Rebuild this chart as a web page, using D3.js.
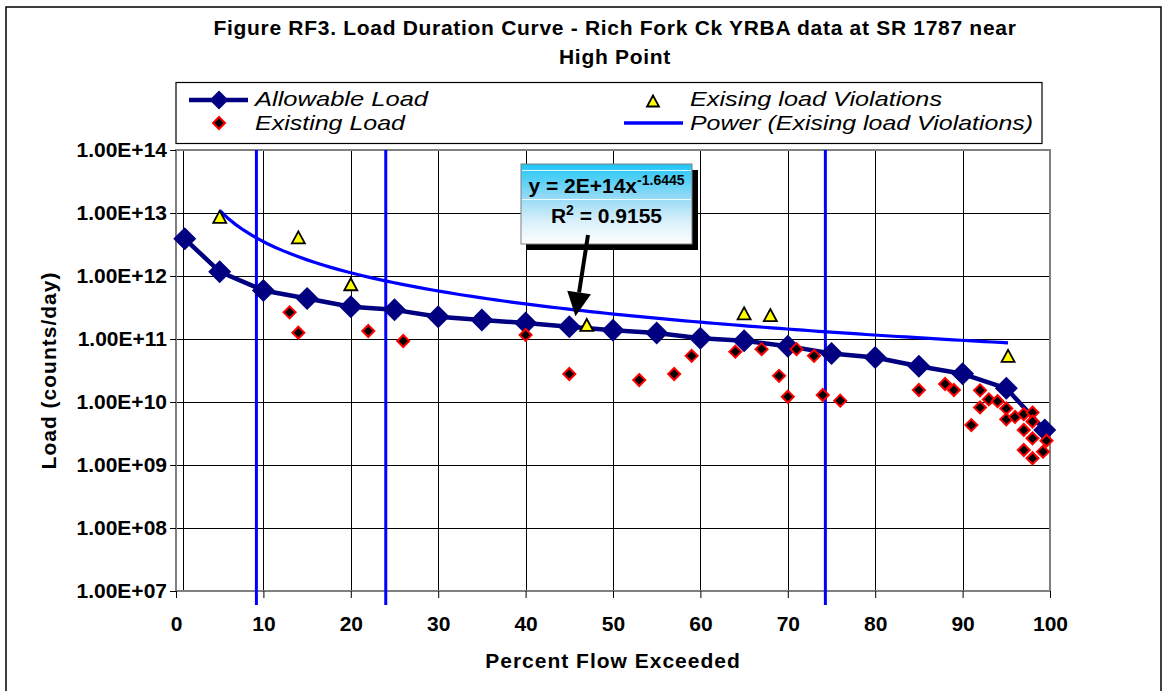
<!DOCTYPE html>
<html>
<head>
<meta charset="utf-8">
<script src="https://cdn.jsdelivr.net/npm/d3@7"></script>
<style>
  body { margin: 0; background: #fff; }
  svg { display: block; }
  text { font-family: Arial, "Liberation Sans", sans-serif; fill: #000; }
</style>
</head>
<body>
<svg id="chart" width="1167" height="691"></svg>
<script>
// ---- Data -------------------------------------------------------------
const xTicks = [0, 10, 20, 30, 40, 50, 60, 70, 80, 90, 100];
const yTicks = [1e7, 1e8, 1e9, 1e10, 1e11, 1e12, 1e13, 1e14];
const yTickLabels = ["1.00E+07", "1.00E+08", "1.00E+09", "1.00E+10",
                     "1.00E+11", "1.00E+12", "1.00E+13", "1.00E+14"];

// Allowable load along the flow duration curve
const allowableX = [1, 5, 10, 15, 20, 25, 30, 35, 40, 45, 50, 55, 60, 65, 70, 75, 80, 85, 90, 95, 99.4];
const allowableLoad = [3.9e12, 1.17e12, 5.9e11, 4.4e11, 3.25e11, 2.9e11, 2.25e11, 2.0e11, 1.8e11,
                       1.57e11, 1.38e11, 1.25e11, 1.03e11, 9.4e10, 7.7e10, 5.9e10, 5.1e10, 3.7e10,
                       2.8e10, 1.65e10, 3.6e9];

// Observed (existing) loads
const existingX = [13, 14, 22, 26, 40, 45, 53, 57, 59, 64, 67, 69, 70, 71, 73, 74, 76,
                   85, 88, 89, 91, 92, 92, 93, 94, 95, 95, 96, 97, 98, 98, 97, 98, 99.6, 97, 99.2, 98];
const existingLoad = [2.65e11, 1.26e11, 1.34e11, 9.3e10, 1.16e11, 2.78e10, 2.23e10, 2.78e10, 5.4e10,
                      6.3e10, 6.9e10, 2.6e10, 1.21e10, 6.9e10, 5.4e10, 1.29e10, 1.05e10,
                      1.55e10, 1.93e10, 1.55e10, 4.3e9, 1.53e10, 8.2e9, 1.1e10, 1.03e10, 7.9e9, 5.3e9,
                      5.8e9, 6.4e9, 6.8e9, 4.9e9, 3.6e9, 2.65e9, 2.43e9, 1.73e9, 1.63e9, 1.28e9];

// Existing loads that exceed the allowable load
const violationX = [5, 14, 20, 47, 65, 68, 95.2];
const violationLoad = [8.7e12, 4.1e12, 7.4e11, 1.67e11, 2.56e11, 2.4e11, 5.4e10];

// Flow-zone boundaries (percent flow exceeded)
const zoneBounds = [9.2, 24, 74.3];

// Trendline label text
const trendCoefText = "2E+14";
const trendExpText = "-1.6445";
const trendR2Text = "0.9155";

// Legend entries
const legendLabels = ["Allowable Load", "Existing Load",
                      "Exising load Violations", "Power (Exising load Violations)"];

// ---- Layout -----------------------------------------------------------
const svg = d3.select("#chart");
const plot = { left: 176, right: 1050, top: 150, bottom: 591 };
const FONT = 'Arial, "Liberation Sans", sans-serif';

const x = d3.scaleLinear().domain([0, 100]).range([plot.left, plot.right]);
const y = d3.scaleLog().domain([1e7, 1e14]).range([plot.bottom, plot.top]);

// Least-squares power fit (log-log) of the violation points
function powerFit(xs, ys) {
  const lx = xs.map(Math.log10), ly = ys.map(Math.log10);
  const mx = d3.mean(lx), my = d3.mean(ly);
  let sxy = 0, sxx = 0;
  lx.forEach((v, i) => { sxy += (v - mx) * (ly[i] - my); sxx += (v - mx) * (v - mx); });
  const b = sxy / sxx;
  return { a: Math.pow(10, my - b * mx), b };
}
const fit = powerFit(violationX, violationLoad);
const trend = v => fit.a * Math.pow(v, fit.b);

// Outer chart frame
svg.append("rect")
  .attr("x", 6).attr("y", 7).attr("width", 1155).attr("height", 700)
  .attr("fill", "#fff").attr("stroke", "#000").attr("stroke-width", 1.5);

// Title
const title = svg.append("text")
  .attr("text-anchor", "middle")
  .attr("font-weight", "bold").attr("font-size", 21).attr("letter-spacing", 0.7);
title.append("tspan").attr("x", 615).attr("y", 35)
  .text("Figure RF3. Load Duration Curve - Rich Fork Ck YRBA data at SR 1787 near");
title.append("tspan").attr("x", 615).attr("y", 64).text("High Point");

// Gridlines
const grid = svg.append("g").attr("shape-rendering", "crispEdges");
grid.selectAll("line.h").data(yTicks.slice(1, -1)).join("line")
  .attr("x1", plot.left).attr("x2", plot.right)
  .attr("y1", d => Math.round(y(d)) + 0.5).attr("y2", d => Math.round(y(d)) + 0.5)
  .attr("stroke", "#000").attr("stroke-width", 1);
grid.selectAll("line.v").data(xTicks.slice(1, -1)).join("line")
  .attr("y1", plot.top).attr("y2", plot.bottom)
  .attr("x1", d => Math.round(x(d)) + 0.5).attr("x2", d => Math.round(x(d)) + 0.5)
  .attr("stroke", "#000").attr("stroke-width", 1);

// Value axis line just inside the plot frame
grid.append("line")
  .attr("x1", plot.left + 7.5).attr("x2", plot.left + 7.5)
  .attr("y1", plot.top).attr("y2", plot.bottom)
  .attr("stroke", "#000").attr("stroke-width", 1);

// Plot frame
svg.append("rect")
  .attr("x", plot.left).attr("y", plot.top)
  .attr("width", plot.right - plot.left).attr("height", plot.bottom - plot.top)
  .attr("fill", "none").attr("stroke", "#808080").attr("stroke-width", 2);

// Axes (ticks and labels)
const xAxis = d3.axisBottom(x).tickValues(xTicks).tickSize(7).tickFormat(d3.format("d"));
const gx = svg.append("g").attr("transform", `translate(0,${plot.bottom})`).call(xAxis);
gx.select(".domain").remove();
gx.selectAll(".tick line").attr("stroke", "#000");
gx.selectAll(".tick text")
  .attr("y", 40).attr("dy", null)
  .attr("font-size", 21).attr("font-weight", "bold")
  .attr("font-family", FONT).attr("fill", "#000");

const yAxis = d3.axisLeft(y).tickValues(yTicks).tickSize(6)
  .tickFormat((d, i) => yTickLabels[i]);
const gy = svg.append("g").attr("transform", `translate(${plot.left},0)`).call(yAxis);
gy.select(".domain").remove();
gy.selectAll(".tick line").attr("stroke", "#000");
gy.selectAll(".tick text")
  .attr("x", -9)
  .attr("font-size", 21).attr("font-weight", "bold")
  .attr("font-family", FONT).attr("fill", "#000");

// Axis titles
svg.append("text")
  .attr("x", (plot.left + plot.right) / 2).attr("y", 668)
  .attr("text-anchor", "middle").attr("font-weight", "bold")
  .attr("font-size", 21).attr("letter-spacing", 1)
  .text("Percent Flow Exceeded");
svg.append("text")
  .attr("transform", `translate(56,${(plot.top + plot.bottom) / 2}) rotate(-90)`)
  .attr("text-anchor", "middle").attr("font-weight", "bold")
  .attr("font-size", 21).attr("letter-spacing", 1)
  .text("Load (counts/day)");

// Flow-zone boundary lines
svg.append("g").selectAll("line").data(zoneBounds).join("line")
  .attr("x1", d => x(d)).attr("x2", d => x(d))
  .attr("y1", plot.top).attr("y2", plot.bottom + 14)
  .attr("stroke", "#0000FF").attr("stroke-width", 3);

// Power trendline over the range of the violation data
const trendXs = d3.range(0, 101).map(i =>
  d3.min(violationX) + (d3.max(violationX) - d3.min(violationX)) * i / 100);
svg.append("path")
  .datum(trendXs)
  .attr("fill", "none").attr("stroke", "#0000FF").attr("stroke-width", 3.2)
  .attr("d", d3.line().x(d => x(d)).y(d => y(trend(d))));

// Marker shapes
const diamond = r => `M0,${-r}L${r},0L0,${r}L${-r},0Z`;
const triangle = (w, h) => `M0,${-h / 2}L${w / 2},${h / 2}L${-w / 2},${h / 2}Z`;

// Allowable load series
const allowable = allowableX.map((v, i) => [v, allowableLoad[i]]);
svg.append("path")
  .datum(allowable)
  .attr("fill", "none").attr("stroke", "#000080").attr("stroke-width", 4.5)
  .attr("stroke-linejoin", "round")
  .attr("d", d3.line().x(d => x(d[0])).y(d => y(d[1])));
svg.append("g").selectAll("path").data(allowable).join("path")
  .attr("transform", d => `translate(${x(d[0])},${y(d[1])})`)
  .attr("d", diamond(11.5)).attr("fill", "#000080");

// Existing load series
const existing = existingX.map((v, i) => [v, existingLoad[i]]);
svg.append("g").selectAll("path").data(existing).join("path")
  .attr("transform", d => `translate(${x(d[0])},${y(d[1])})`)
  .attr("d", diamond(6)).attr("fill", "#000")
  .attr("stroke", "#FF0000").attr("stroke-width", 2).attr("stroke-linejoin", "miter");

// Violation series
const violations = violationX.map((v, i) => [v, violationLoad[i]]);
svg.append("g").selectAll("path").data(violations).join("path")
  .attr("transform", d => `translate(${x(d[0])},${y(d[1])})`)
  .attr("d", triangle(13, 12)).attr("fill", "#FFFF00")
  .attr("stroke", "#000").attr("stroke-width", 1.8).attr("stroke-linejoin", "miter");

// Trendline equation label with pointer
const defs = svg.append("defs");
const grad = defs.append("linearGradient").attr("id", "eqFill")
  .attr("x1", 0).attr("y1", 0).attr("x2", 0).attr("y2", 1);
grad.append("stop").attr("offset", "0%").attr("stop-color", "#1EC6F7");
grad.append("stop").attr("offset", "40%").attr("stop-color", "#8FD9F5");
grad.append("stop").attr("offset", "70%").attr("stop-color", "#D6EFFA");
grad.append("stop").attr("offset", "100%").attr("stop-color", "#FFFFFF");

const eq = { left: 521, top: 164, width: 171, height: 80 };
svg.append("rect")
  .attr("x", eq.left + 6).attr("y", eq.top + 6)
  .attr("width", eq.width).attr("height", eq.height).attr("fill", "#000");
svg.append("rect")
  .attr("x", eq.left).attr("y", eq.top)
  .attr("width", eq.width).attr("height", eq.height)
  .attr("fill", "url(#eqFill)").attr("stroke", "#808080").attr("stroke-width", 1);
svg.append("g").attr("shape-rendering", "crispEdges").selectAll("line")
  .data([6, 35]).join("line")
  .attr("x1", eq.left + 1).attr("x2", eq.left + eq.width - 1)
  .attr("y1", d => eq.top + d + 0.5).attr("y2", d => eq.top + d + 0.5)
  .attr("stroke", "#fff").attr("stroke-opacity", 0.85);

const eqCx = eq.left + eq.width / 2;
const l1 = svg.append("text").attr("x", eqCx).attr("y", eq.top + 29)
  .attr("text-anchor", "middle").attr("font-weight", "bold").attr("font-size", 21);
l1.append("tspan").text(`y = ${trendCoefText}x`);
l1.append("tspan").attr("font-size", 14).attr("dy", -8).text(trendExpText);

const l2 = svg.append("text").attr("x", eqCx).attr("y", eq.top + 59)
  .attr("text-anchor", "middle").attr("font-weight", "bold").attr("font-size", 21);
l2.append("tspan").text("R");
l2.append("tspan").attr("font-size", 14).attr("dy", -8).text("2");
l2.append("tspan").attr("dy", 8).text(` = ${trendR2Text}`);

// Pointer from the label to the trendline
const tip = [x(45.7), y(2.3e11)];
const tail = [588, 235];
const ang = Math.atan2(tip[1] - tail[1], tip[0] - tail[0]);
const headLen = 24, headHalf = 12;
const base = [tip[0] - headLen * Math.cos(ang), tip[1] - headLen * Math.sin(ang)];
svg.append("line")
  .attr("x1", tail[0]).attr("y1", tail[1]).attr("x2", base[0]).attr("y2", base[1])
  .attr("stroke", "#000").attr("stroke-width", 4);
svg.append("path")
  .attr("d", `M${tip[0]},${tip[1]}` +
    `L${base[0] + headHalf * Math.sin(ang)},${base[1] - headHalf * Math.cos(ang)}` +
    `L${base[0] - headHalf * Math.sin(ang)},${base[1] + headHalf * Math.cos(ang)}Z`)
  .attr("fill", "#000");

// Legend
const lg = svg.append("g");
lg.append("rect")
  .attr("x", 176).attr("y", 82.5).attr("width", 866).attr("height", 61)
  .attr("fill", "#fff").attr("stroke", "#000").attr("stroke-width", 1.2);
lg.append("line").attr("x1", 189).attr("x2", 248).attr("y1", 100).attr("y2", 100)
  .attr("stroke", "#000080").attr("stroke-width", 4.5);
lg.append("path").attr("transform", "translate(219,100)")
  .attr("d", diamond(9.5)).attr("fill", "#000080");
lg.append("path").attr("transform", "translate(219,123)")
  .attr("d", diamond(6)).attr("fill", "#000")
  .attr("stroke", "#FF0000").attr("stroke-width", 2);
lg.append("path").attr("transform", "translate(653,101)")
  .attr("d", triangle(12, 11)).attr("fill", "#FFFF00")
  .attr("stroke", "#000").attr("stroke-width", 1.8);
lg.append("line").attr("x1", 624).attr("x2", 683).attr("y1", 123).attr("y2", 123)
  .attr("stroke", "#0000FF").attr("stroke-width", 3.5);

// Legend labels: [x, baseline, rendered width]
const legendPos = [[255, 106, 173], [255, 129.5, 150], [690, 106, 252], [690, 129.5, 343]];
lg.selectAll("text.lt").data(legendLabels).join("text")
  .attr("class", "lt")
  .attr("x", (d, i) => legendPos[i][0]).attr("y", (d, i) => legendPos[i][1])
  .attr("textLength", (d, i) => legendPos[i][2]).attr("lengthAdjust", "spacingAndGlyphs")
  .attr("font-style", "italic").attr("font-size", 21)
  .text(d => d);
</script>
</body>
</html>
